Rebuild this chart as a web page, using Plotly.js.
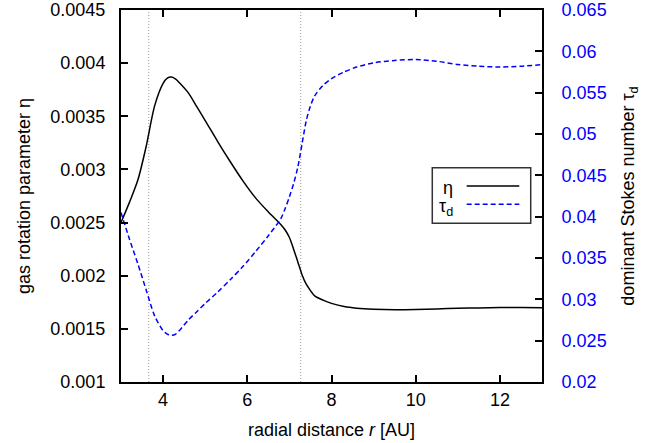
<!DOCTYPE html>
<html>
<head>
<meta charset="utf-8">
<script src="https://cdn.plot.ly/plotly-3.0.1.min.js"></script>
<style>html,body{margin:0;padding:0;background:#fff;}#chart{width:665px;height:443px;}</style>
</head>
<body>
<div id="chart"></div>
<script>
// radial distance r [AU]
const radius = [3.0,3.2,3.4,3.6,3.8,4.0,4.1,4.2,4.3,4.4,4.6,4.8,5.0,5.3,5.6,5.9,6.2,6.5,6.8,6.9,7.0,7.1,7.2,7.3,7.4,7.5,7.6,7.8,8.0,8.3,8.6,9.0,9.5,10,10.5,11,11.5,12,12.5,13];
// gas rotation parameter eta
const eta = [0.00250,0.00269,0.00290,0.00322,0.00360,0.00381,0.00386,0.00387,0.00385,0.00381,0.00372,0.00359,0.00346,0.00326,0.00307,0.00289,0.00273,0.00260,0.00248,0.00243,0.00236,0.00225,0.00213,0.00201,0.00192,0.00186,0.00181,0.00177,0.00174,0.00171,0.001695,0.001685,0.001680,0.001682,0.001688,0.001693,0.001697,0.001700,0.001700,0.001698];
// dominant Stokes number tau_d
const tauD = [0.0405,0.0373,0.0343,0.0311,0.0280,0.0262,0.0258,0.02565,0.0258,0.0263,0.0275,0.0285,0.0295,0.0309,0.0324,0.0340,0.0358,0.0377,0.0398,0.0410,0.0424,0.0440,0.0460,0.0488,0.0516,0.0534,0.0546,0.0559,0.0567,0.0575,0.0581,0.0586,0.0589,0.0590,0.0588,0.0584,0.0582,0.0581,0.0582,0.0584];
// vertical reference lines (r positions)
const markerRadii = [3.66, 7.27];
const xTicks = [4, 6, 8, 10, 12];

const FONT = 'Liberation Sans, Arial, Helvetica, sans-serif';

const traces = [
  {x: radius, y: eta, type: 'scatter', mode: 'lines', name: 'η',
   line: {color: '#000000', width: 1.5, shape: 'spline', smoothing: 0.8}, yaxis: 'y'},
  {x: radius, y: tauD, type: 'scatter', mode: 'lines', name: 'τ<sub>d</sub>',
   line: {color: '#0000ff', width: 1.5, dash: '5px,3px', shape: 'spline', smoothing: 0.8}, yaxis: 'y2'}
];

const shapes = markerRadii.map(r => ({
  type: 'line', xref: 'x', yref: 'paper', x0: r, x1: r, y0: 0, y1: 1,
  line: {color: '#999999', width: 1, dash: '1px,2px'}, layer: 'below'
}));
// legend box (gnuplot style)
shapes.push({type: 'rect', xref: 'paper', yref: 'paper', x0: 0.7394, x1: 0.9732, y0: 0.4266, y1: 0.5761,
  line: {color: '#333333', width: 1.5}, fillcolor: '#ffffff'});
shapes.push({type: 'line', xref: 'paper', yref: 'paper', x0: 0.8211, x1: 0.9461, y0: 0.5269, y1: 0.5269,
  line: {color: '#000000', width: 1.5}});
shapes.push({type: 'line', xref: 'paper', yref: 'paper', x0: 0.8211, x1: 0.9461, y0: 0.4777, y1: 0.4777,
  line: {color: '#0000ff', width: 1.5, dash: '5px,3px'}});

const annotations = [
  {xref: 'paper', yref: 'paper', x: 0.7933, y: 0.522, xanchor: 'right', yanchor: 'middle',
   text: 'η', showarrow: false, font: {family: FONT, size: 18, color: '#000'}},
  {xref: 'paper', yref: 'paper', x: 0.7933, y: 0.468, xanchor: 'right', yanchor: 'middle',
   text: 'τ<sub>d</sub>', showarrow: false, font: {family: FONT, size: 18, color: '#000'}}
];

const layout = {
  width: 665, height: 443,
  margin: {l: 121, r: 123, t: 10, b: 61, pad: 0},
  paper_bgcolor: '#ffffff', plot_bgcolor: '#ffffff',
  font: {family: FONT, size: 18, color: '#000'},
  showlegend: false,
  xaxis: {
    range: [3, 13], tickvals: xTicks, ticktext: xTicks.map(String),
    showgrid: false, zeroline: false,
    showline: true, linecolor: '#000', linewidth: 2, mirror: 'ticks',
    ticks: 'inside', ticklen: 7, tickwidth: 2, tickcolor: '#000',
    tickfont: {family: FONT, size: 18, color: '#000'},
    title: {text: 'radial distance <i>r</i> [AU]', font: {family: FONT, size: 18, color: '#000'}, standoff: 15}
  },
  yaxis: {
    range: [0.001, 0.0045], dtick: 0.0005, tick0: 0.001,
    showgrid: false, zeroline: false,
    showline: true, linecolor: '#000', linewidth: 2,
    ticks: 'inside', ticklen: 7, tickwidth: 2, tickcolor: '#000',
    ticklabelstandoff: 10,
    tickfont: {family: FONT, size: 18, color: '#000'},
    title: {text: 'gas rotation parameter η', font: {family: FONT, size: 18, color: '#000'}, standoff: 15}
  },
  yaxis2: {
    overlaying: 'y', side: 'right',
    range: [0.02, 0.065], dtick: 0.005, tick0: 0.02,
    showgrid: false, zeroline: false,
    showline: true, linecolor: '#000', linewidth: 2,
    ticks: 'inside', ticklen: 7, tickwidth: 2, tickcolor: '#000',
    ticklabelstandoff: 14,
    tickfont: {family: FONT, size: 18, color: '#0000ff'},
    title: {text: 'dominant Stokes number τ<sub>d</sub>', font: {family: FONT, size: 18, color: '#000'}, standoff: 16}
  },
  shapes: shapes,
  annotations: annotations
};

Plotly.newPlot('chart', traces, layout, {displayModeBar: false, staticPlot: true});
</script>
</body>
</html>
